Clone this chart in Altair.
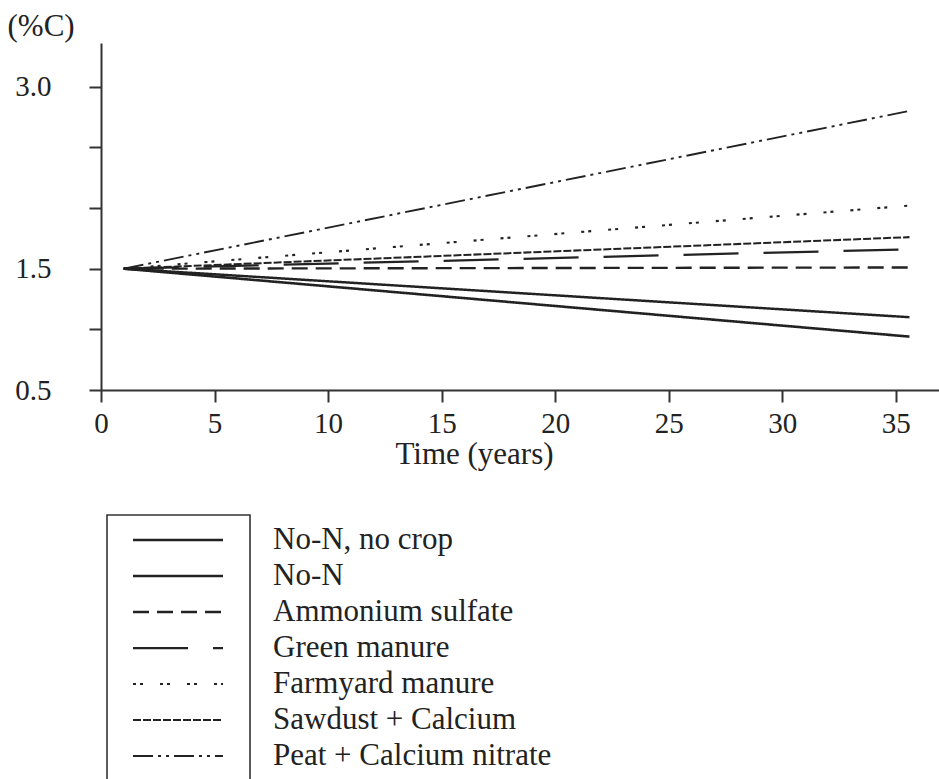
import altair as alt
import pandas as pd

# Soil organic carbon (%C) under each treatment, start and end of the trial
series = [
    "No-N, no crop",
    "No-N",
    "Ammonium sulfate",
    "Green manure",
    "Farmyard manure",
    "Sawdust + Calcium",
    "Peat + Calcium nitrate",
]
years = [1, 35.6]
start_values = [1.50, 1.50, 1.50, 1.50, 1.50, 1.50, 1.50]
end_values = [0.94, 1.10, 1.51, 1.66, 2.02, 1.76, 2.80]

# Line styles per treatment
dashes = [[1, 0], [1, 0], [16, 8], [55, 25], [3, 4, 3, 17], [8, 2], [20, 5, 3, 5, 3, 5]]
widths = [2.6, 1.9, 1.9, 1.9, 2.2, 1.9, 2.2]

FONT = "Liberation Serif"
INK = "#222222"

rows = []
for name, a, b in zip(series, start_values, end_values):
    rows.append({"series": name, "year": years[0], "carbon": a})
    rows.append({"series": name, "year": years[1], "carbon": b})
lines_df = pd.DataFrame(rows)

legend_df = pd.DataFrame({"series": series, "row": list(range(len(series)))})

dash_scale = alt.Scale(domain=series, range=dashes)
width_scale = alt.Scale(domain=series, range=widths)

lines = alt.Chart(lines_df).mark_line(color=INK, strokeCap="butt").encode(
    x=alt.X(
        "year:Q",
        scale=alt.Scale(domain=[0, 36.9], nice=False, zero=False),
        axis=alt.Axis(
            values=[0, 5, 10, 15, 20, 25, 30, 35],
            title="Time (years)",
            titleFont=FONT,
            titleFontSize=31,
            titleFontWeight="normal",
            titleColor=INK,
            titleX=373,
            titleY=73,
            titleBaseline="alphabetic",
            labelFont=FONT,
            labelFontSize=29,
            labelColor=INK,
            labelBaseline="alphabetic",
            labelPadding=30,
            labelFlush=False,
            tickSize=12,
            tickWidth=2,
            tickColor="#333333",
            domainWidth=2,
            domainColor="#333333",
            grid=False,
        ),
    ),
    y=alt.Y(
        "carbon:Q",
        scale=alt.Scale(domain=[0.5, 3.36], nice=False, zero=False),
        axis=alt.Axis(
            values=[0.5, 1.0, 1.5, 2.0, 2.5, 3.0],
            labelExpr="(datum.value == 3 || datum.value == 1.5 || datum.value == 0.5) ? format(datum.value, '.1f') : ''",
            title="(%C)",
            titleFont=FONT,
            titleFontSize=31,
            titleFontWeight="normal",
            titleColor=INK,
            titleAngle=0,
            titleAlign="left",
            titleBaseline="alphabetic",
            titleX=-94,
            titleY=-8,
            labelFont=FONT,
            labelFontSize=29,
            labelColor=INK,
            labelPadding=38,
            labelBaseline="middle",
            tickSize=12,
            tickWidth=2,
            tickColor="#333333",
            domainWidth=2,
            domainColor="#333333",
            grid=False,
        ),
    ),
    detail="series:N",
    strokeDash=alt.StrokeDash("series:N", scale=dash_scale, legend=None),
    strokeWidth=alt.StrokeWidth("series:N", scale=width_scale, legend=None),
)

# Legend drawn below the plot: framed samples with labels to the right
legend_y = alt.Scale(domain=[0, 6], range=[497, 713])

legend_box = alt.Chart(pd.DataFrame({"k": [0]})).mark_rect(
    fill="white", fillOpacity=0, stroke="#333333", strokeWidth=1.6
).encode(
    x=alt.value(6), x2=alt.value(149), y=alt.value(472), y2=alt.value(760)
)

legend_lines = alt.Chart(legend_df).mark_rule(color=INK, strokeCap="butt").encode(
    x=alt.value(32),
    x2=alt.value(122),
    y=alt.Y("row:Q", scale=legend_y, axis=None),
    strokeDash=alt.StrokeDash("series:N", scale=dash_scale, legend=None),
    strokeWidth=alt.StrokeWidth("series:N", scale=width_scale, legend=None),
)

legend_text = alt.Chart(legend_df).mark_text(
    align="left", baseline="middle", font=FONT, fontSize=31, color=INK
).encode(
    x=alt.value(172),
    y=alt.Y("row:Q", scale=legend_y, axis=None),
    text="series:N",
)

chart = (
    alt.layer(lines, legend_box, legend_lines, legend_text)
    .resolve_scale(y="independent")
    .properties(
        width=838,
        height=347,
        autosize=alt.AutoSizeParams(type="none"),
        padding={"left": 101, "top": 43, "right": 0, "bottom": 389},
        background="white",
    )
    .configure_view(stroke=None)
)

chart.save("out.html", embed_options={"renderer": "svg", "actions": False})
